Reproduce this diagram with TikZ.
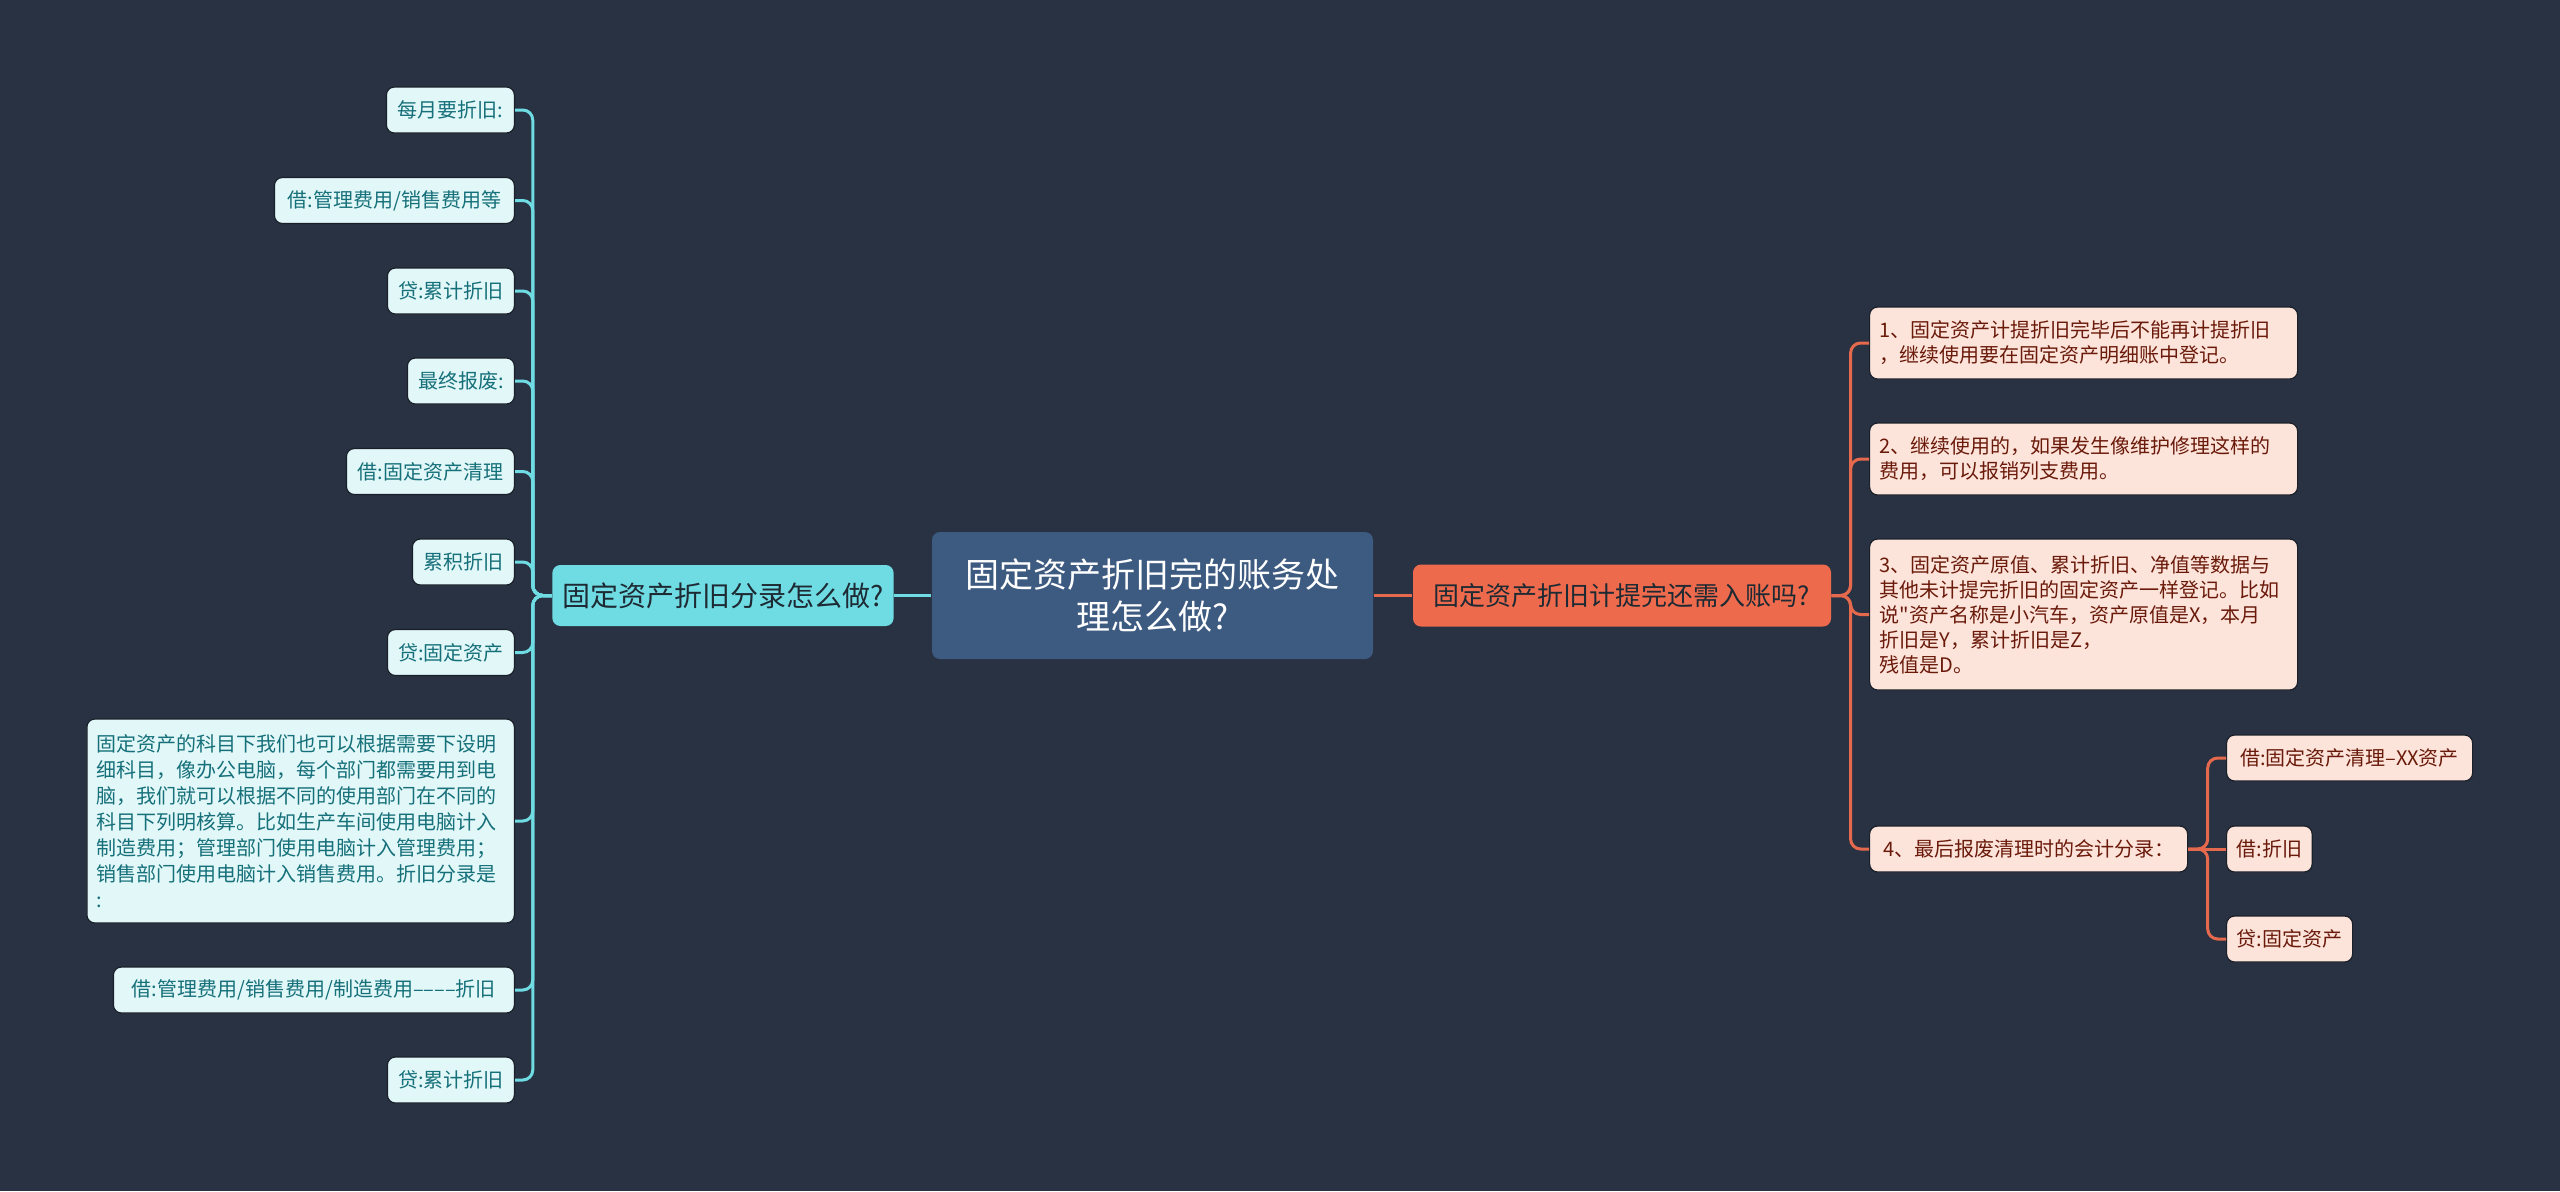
\documentclass[tikz,border=0pt]{standalone}
\usepackage{fontspec}
\setmainfont{Noto Sans CJK SC}
\newfontfamily\cjkfont{Noto Sans CJK SC}
\definecolor{bg}{HTML}{293242}
\definecolor{rootfill}{HTML}{3D5A80}
\definecolor{cyanfill}{HTML}{6FDCE4}
\definecolor{cyanline}{HTML}{6FDCE4}
\definecolor{lleaffill}{HTML}{E1F7F8}
\definecolor{lleaftext}{HTML}{16707A}
\definecolor{orangefill}{HTML}{EE6A4C}
\definecolor{orangeline}{HTML}{E5694C}
\definecolor{rleaffill}{HTML}{FDE4DB}
\definecolor{rleaftext}{HTML}{6A1A0A}
\definecolor{darktext}{HTML}{1E2A33}
\definecolor{shadowc}{HTML}{1A202A}
\begin{document}
\begin{tikzpicture}[x=0.5pt,y=-0.5pt,
  box/.style={rectangle, rounded corners=4pt, inner xsep=5pt, inner ysep=0pt, draw=shadowc, line width=0.6pt},
  lleaf/.style={box, fill=lleaffill, text=lleaftext, minimum height=23pt, font=\cjkfont\fontsize{10pt}{13pt}\selectfont, anchor=east},
  rleaf/.style={box, fill=rleaffill, text=rleaftext, minimum height=23pt, font=\cjkfont\fontsize{10pt}{12.5pt}\selectfont, anchor=west},
  lline/.style={draw=cyanline, line width=1.5pt, rounded corners=5pt},
  rline/.style={draw=orangeline, line width=1.5pt, rounded corners=5pt},
]
\useasboundingbox (0,0) rectangle (2560,1191);
\fill[bg] (0,0) rectangle (2560,1191);

% root and main branches
\node[box, draw=none, fill=rootfill, text=white, minimum width=220.5pt, minimum height=63.5pt, align=center,
  font=\cjkfont\fontsize{17pt}{21pt}\selectfont] (root) at (1152.5,595.5) {固定资产折旧完的账务处\\理怎么做?};
\node[box, draw=none, fill=cyanfill, text=darktext, minimum width=170pt, minimum height=30.5pt,
  font=\cjkfont\fontsize{14pt}{16pt}\selectfont] (lmain) at (723,595.5) {固定资产折旧分录怎么做?};
\node[box, draw=none, fill=orangefill, text=darktext, minimum width=209pt, minimum height=31pt,
  font=\cjkfont\fontsize{13pt}{15pt}\selectfont] (rmain) at (1622,595.5) {固定资产折旧计提完还需入账吗?};

% left leaves
\node[lleaf, minimum width=64pt] (l1) at (515,110) {每月要折旧:};
\node[lleaf, minimum width=120pt] (l2) at (515,200.5) {借:管理费用/销售费用等};
\node[lleaf, minimum width=63.5pt] (l3) at (515,291) {贷:累计折旧};
\node[lleaf, minimum width=53.5pt] (l4) at (515,381) {最终报废:};
\node[lleaf, minimum width=84pt] (l5) at (515,471.5) {借:固定资产清理};
\node[lleaf, minimum width=51pt] (l6) at (515,562) {累积折旧};
\node[lleaf, minimum width=63.5pt] (l7) at (515,652.5) {贷:固定资产};
\node[lleaf, text width=203.75pt, minimum height=102pt, align=left] (l8) at (515,821)
  {固定资产的科目下我们也可以根据需要下设明\\细科目，像办公电脑，每个部门都需要用到电\\脑，我们就可以根据不同的使用部门在不同的\\科目下列明核算。比如生产车间使用电脑计入\\制造费用；管理部门使用电脑计入管理费用；\\销售部门使用电脑计入销售费用。折旧分录是\\:};
\node[lleaf, minimum width=200.5pt] (l9) at (515,990) {借:管理费用/销售费用/制造费用––––折旧};
\node[lleaf, minimum width=63.5pt] (l10) at (515,1080) {贷:累计折旧};

% right leaves
\node[rleaf, text width=204pt, minimum height=36pt, align=left] (r1) at (1869,343)
  {1、固定资产计提折旧完毕后不能再计提折旧\\，继续使用要在固定资产明细账中登记。};
\node[rleaf, text width=204pt, minimum height=36pt, align=left] (r2) at (1869,459)
  {2、继续使用的，如果发生像维护修理这样的\\费用，可以报销列支费用。};
\node[rleaf, text width=204pt, minimum height=75.5pt, align=left] (r3) at (1869,614.5)
  {3、固定资产原值、累计折旧、净值等数据与\\其他未计提完折旧的固定资产一样登记。比如\\说"资产名称是小汽车，资产原值是X，本月\\折旧是Y，累计折旧是Z，\\残值是D。};
\node[rleaf, minimum width=159pt] (r4) at (1869,849) {4、最后报废清理时的会计分录：};
\node[rleaf, minimum width=123pt] (s1) at (2226,758) {借:固定资产清理–XX资产};
\node[rleaf, minimum width=42.5pt] (s2) at (2226,849) {借:折旧};
\node[rleaf, minimum width=63pt] (s3) at (2226,939) {贷:固定资产};

% connectors
\draw[lline] (root.west) -- (lmain.east);
\draw[rline] (root.east) -- (rmain.west);
\foreach \n in {l1,l2,l3,l4,l5,l6,l7,l8,l9,l10}
  \draw[lline] (lmain.west) -- ++(-19,0) |- (\n.east);
\foreach \n in {r1,r2,r3,r4}
  \draw[rline] (rmain.east) -- ++(19,0) |- (\n.west);
\draw[rline] (r4.east) -- ++(19.5,0) |- (s1.west);
\draw[rline] (r4.east) -- (s2.west);
\draw[rline] (r4.east) -- ++(19.5,0) |- (s3.west);
\end{tikzpicture}
\end{document}
